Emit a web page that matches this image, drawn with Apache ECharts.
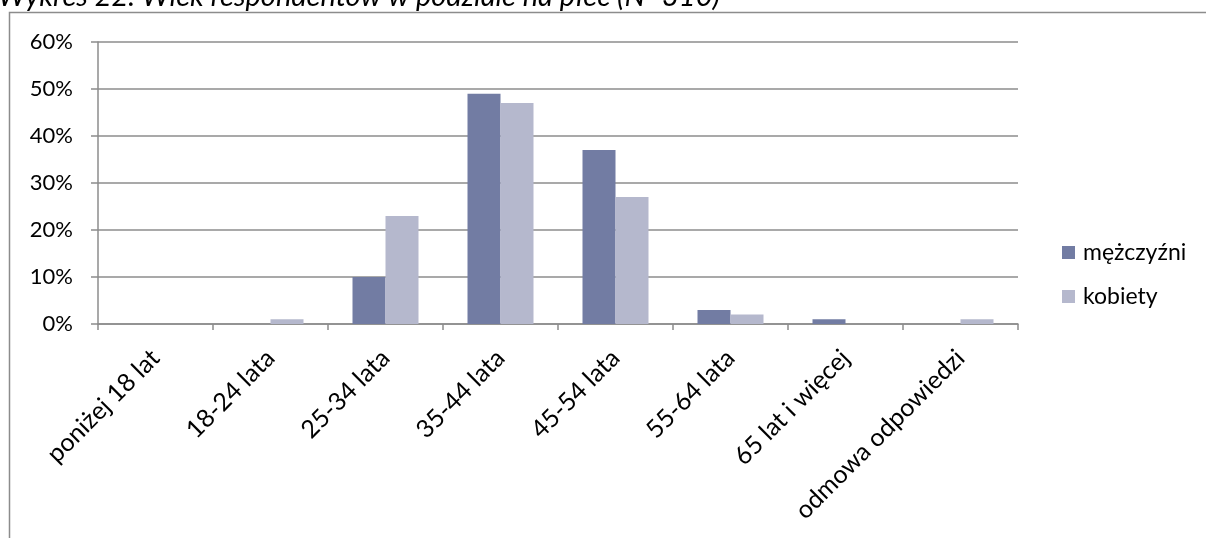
<!DOCTYPE html>
<html><head><meta charset="utf-8">
<script src="https://cdn.jsdelivr.net/npm/echarts@6/dist/echarts.min.js"></script>
<style>html,body{margin:0;padding:0;background:#fff}#c{width:1206px;height:538px}</style>
</head><body><div id="c"></div>
<script>
const title = 'Wykres 22. Wiek respondentów w podziale na płeć (N=310)';
const categories = ['poniżej 18 lat','18-24 lata','25-34 lata','35-44 lata','45-54 lata','55-64 lata','65 lat i więcej','odmowa odpowiedzi'];
const seriesNames = ['mężczyźni','kobiety'];
const men = [0, 0, 10, 49, 37, 3, 1, 0];
const women = [0, 1, 23, 47, 27, 2, 0, 1];
const yTicks = [0, 10, 20, 30, 40, 50, 60];

const font = 'Lato, "Open Sans", sans-serif';
const chart = echarts.init(document.getElementById('c'), null, {renderer:'canvas'});
chart.setOption({
  animation: false,
  backgroundColor: '#fff',
  title: {text: title, left: -2, top: -18, padding: 0, textStyle: {fontFamily: font, fontStyle: 'italic', fontWeight: 'normal', fontSize: 29, color: '#000'}},
  graphic: [{type:'rect', shape:{x:9.5, y:12.5, width:1400, height:700}, style:{fill:'none', stroke:'#8c8c8c', lineWidth:1.5}, silent:true}],
  legend: {
    orient: 'vertical', left: 1062, top: 241, itemWidth: 13, itemHeight: 13, itemGap: 21,
    icon: 'rect', padding: 0, textStyle: {fontFamily: font, fontSize: 23, color: '#000', padding:[0,0,0,3]},
    data: seriesNames
  },
  grid: {left: 98, right: 188, top: 42, bottom: 214, containLabel: false},
  xAxis: {
    type: 'category', data: categories,
    axisLine: {lineStyle: {color: '#8c8c8c', width: 1.5}},
    axisTick: {show: true, length: 6, alignWithLabel: false, lineStyle: {color: '#8c8c8c', width: 1.5}},
    axisLabel: {rotate: 45, interval: 0, margin: 30, fontFamily: font, fontSize: 25, color: '#000'}
  },
  yAxis: {
    type: 'value', min: 0, max: 60, interval: 10,
    axisLine: {show: true, lineStyle: {color: '#8c8c8c', width: 1.5}},
    axisTick: {show: true, length: 7, lineStyle: {color: '#8c8c8c', width: 1.5}},
    splitLine: {lineStyle: {color: '#8c8c8c', width: 1.5}},
    axisLabel: {margin: 25, fontFamily: font, fontSize: 22, color: '#000', formatter: v => yTicks.includes(v) ? v + '%' : ''}
  },
  series: [
    {name: seriesNames[0], type: 'bar', data: men, barWidth: 33, barGap: '0%', itemStyle: {color: '#727ca3'}},
    {name: seriesNames[1], type: 'bar', data: women, barWidth: 33, barGap: '0%', itemStyle: {color: '#b5b8cd'}}
  ]
});
</script></body></html>
